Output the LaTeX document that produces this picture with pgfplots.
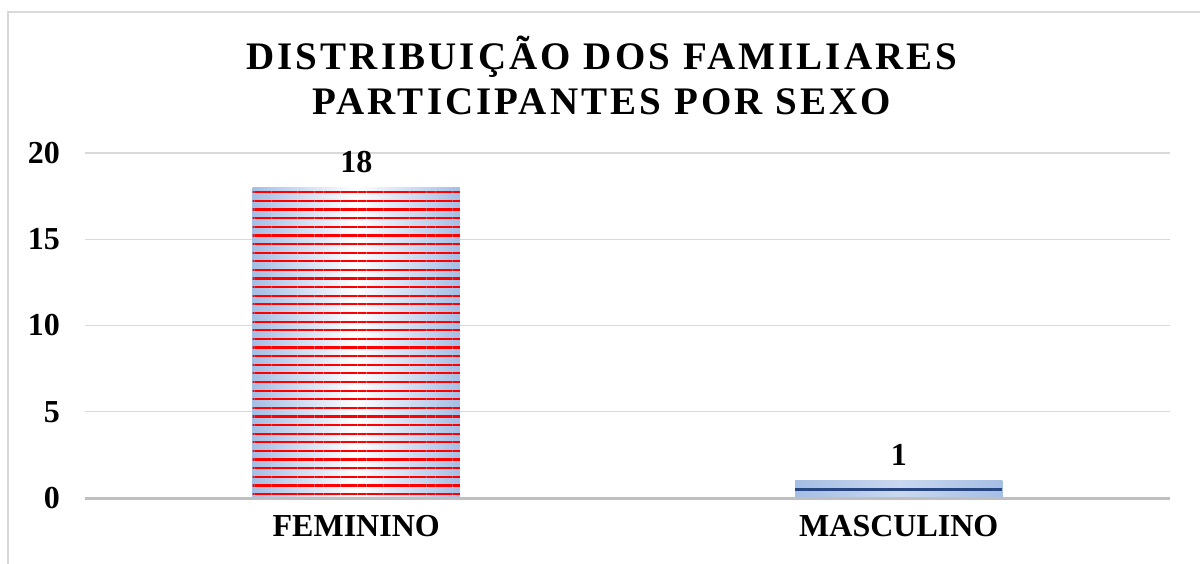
\documentclass[border=0pt]{standalone}
\usepackage{fontspec}
\setmainfont{Liberation Serif}
\usepackage{pgfplots}
\pgfplotsset{compat=1.18}
\usetikzlibrary{patterns.meta}
\definecolor{bedge}{RGB}{165,190,228}
\definecolor{dblue}{RGB}{40,70,130}
\definecolor{gridc}{RGB}{217,217,217}
\definecolor{axc}{RGB}{191,191,191}
\begin{document}
\begin{tikzpicture}
\useasboundingbox (0,0) rectangle (600pt,281.5pt);
\begin{scope}
\clip (0,0) rectangle (600pt,281.5pt);
\draw[gridc, line width=1pt] (4pt,-20pt) rectangle (640pt,275.5pt);
\end{scope}
\node[font=\bfseries\fontsize{19.5}{22.5}\selectfont\addfontfeatures{LetterSpace=8}, align=center, anchor=center] at (301pt,244pt) {DISTRIBUIÇÃO DOS FAMILIARES\\PARTICIPANTES POR SEXO};
\begin{axis}[
  at={(42.5pt,32.5pt)}, anchor=south west,
  scale only axis, width=542.5pt, height=172.5pt,
  xmin=-0.5, xmax=1.5, ymin=0, ymax=20,
  xtick={0,1}, xticklabels={FEMININO,MASCULINO},
  ytick={0,5,10,15,20},
  axis line style={draw=none},
  axis x line*=bottom, axis y line*=left,
  major tick length=0pt,
  ymajorgrids, grid style={gridc, line width=0.6pt},
  /pgf/number format/assume math mode=true,
  ticklabel style={font=\bfseries\fontsize{16}{19}\selectfont},
  xticklabel style={yshift=-5pt},
  yticklabel style={xshift=-9pt},
  clip=false,
]
\addplot[ybar, bar width=0.382, bar shift=0pt, draw=none, left color=bedge, right color=bedge, middle color=white]
  coordinates {(0,18)};
\addplot[ybar, bar width=0.382, bar shift=0pt, draw=none, fill=none, pattern={Lines[angle=0,distance=4.31pt,line width=1.1pt]}, pattern color=red,
  nodes near coords, every node near coord/.append style={font=\bfseries\fontsize{16}{19}\selectfont, yshift=4pt, black}]
  coordinates {(0,18)};
\addplot[ybar, bar width=0.382, bar shift=0pt, draw=none, left color=bedge, right color=bedge, middle color=bedge!60!white,
  nodes near coords, every node near coord/.append style={font=\bfseries\fontsize{16}{19}\selectfont, yshift=4pt, black}]
  coordinates {(1,1)};
\addplot[dblue, line width=1.2pt, forget plot] coordinates {(0.809,0.5) (1.191,0.5)};
\addplot[axc, line width=1.5pt, forget plot] coordinates {(-0.5,0) (1.5,0)};
\end{axis}
\end{tikzpicture}
\end{document}
